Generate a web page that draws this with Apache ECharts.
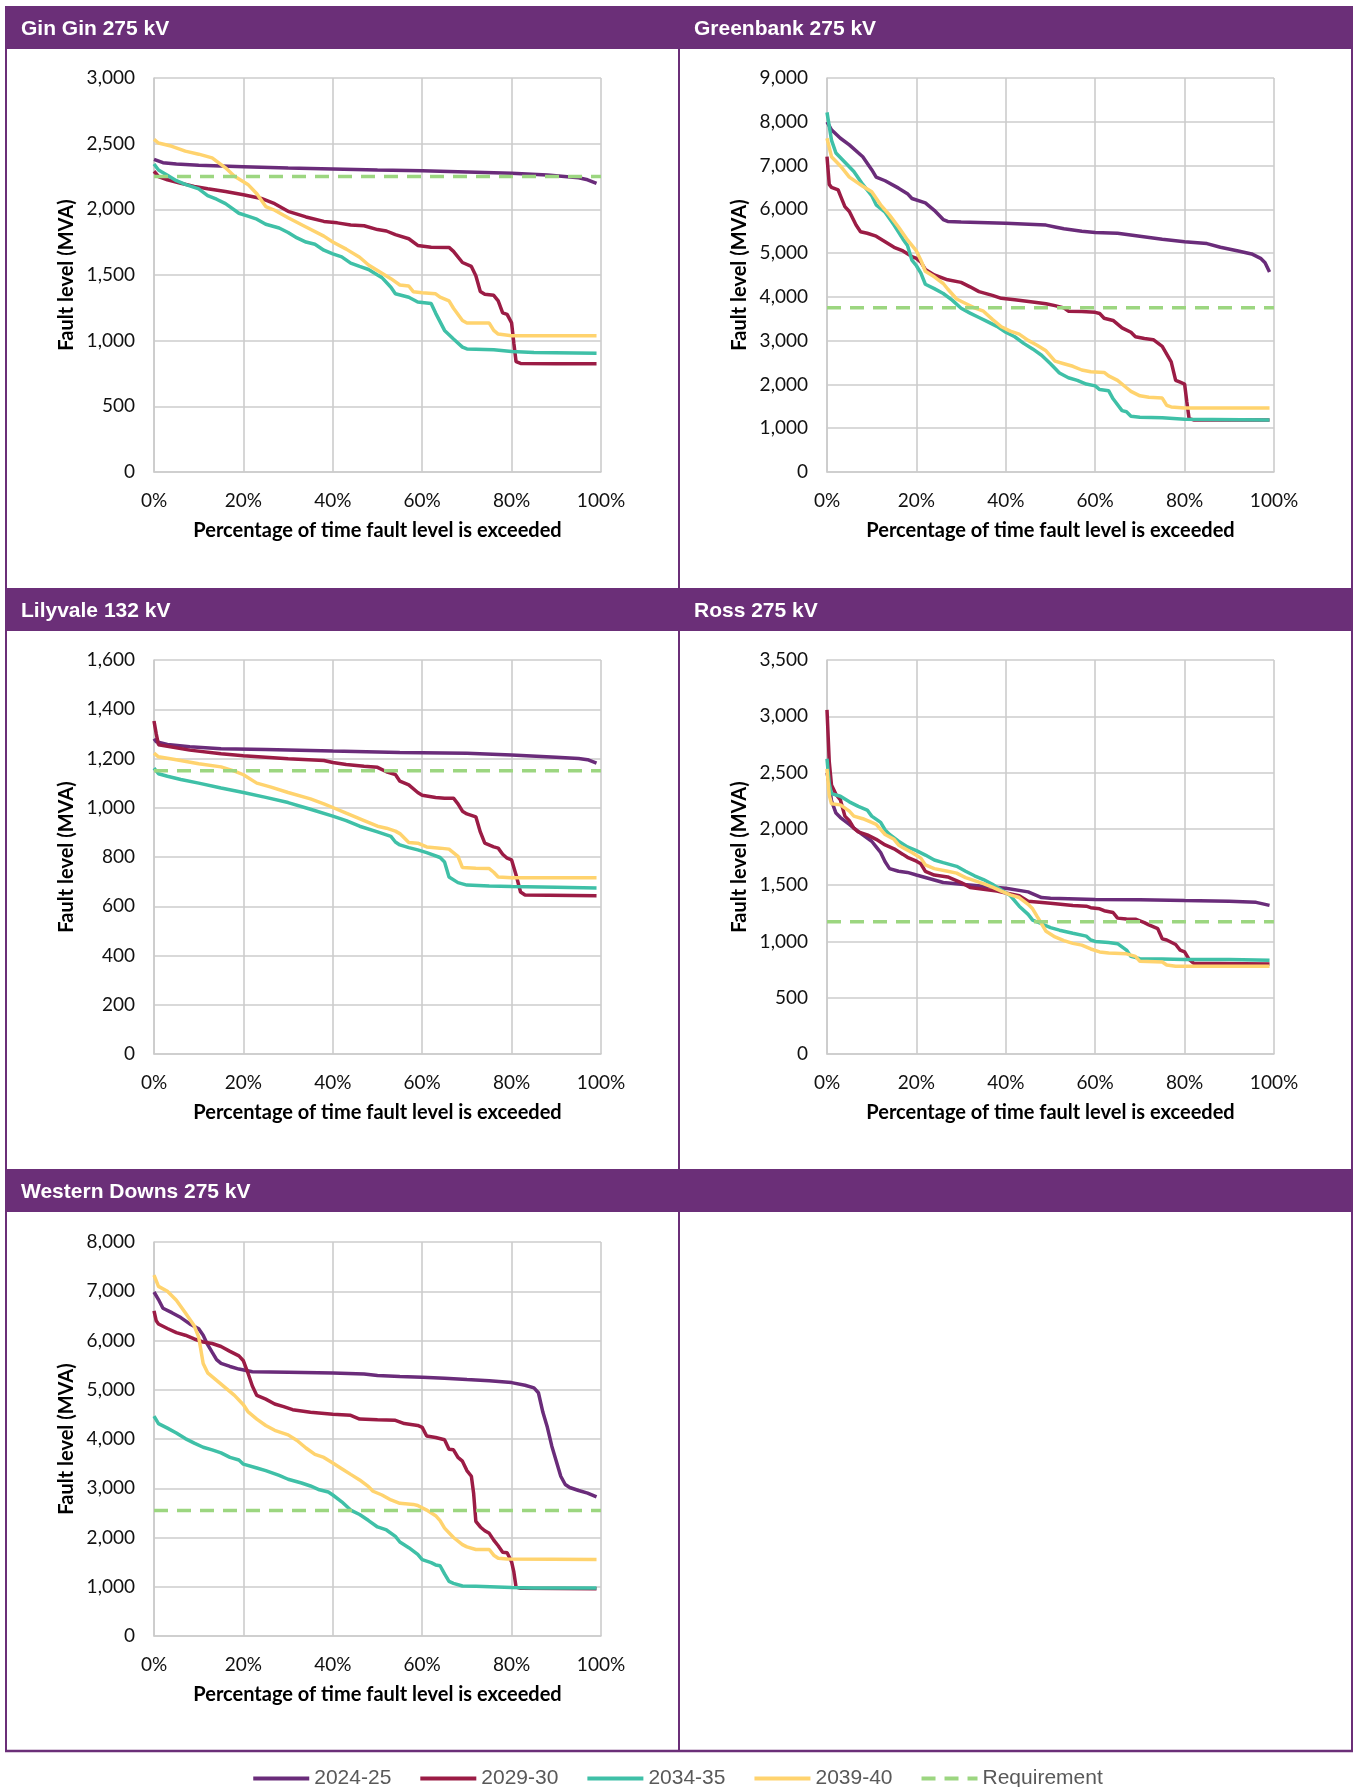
<!DOCTYPE html>
<html><head><meta charset="utf-8">
<script src="https://cdn.jsdelivr.net/npm/echarts@6/dist/echarts.min.js"></script>
<style>html,body{margin:0;padding:0;background:#fff}#c{width:1354px;height:1787px}</style>
</head><body><div id="c"></div>
<script>
// ---------- Data ----------
const seriesNames = ['2024-25', '2029-30', '2034-35', '2039-40', 'Requirement'];
const chartTitles = ['Gin Gin 275 kV', 'Greenbank 275 kV', 'Lilyvale 132 kV', 'Ross 275 kV', 'Western Downs 275 kV'];
const yMax = [3000, 9000, 1600, 3500, 8000];
const yStep = [500, 1000, 200, 500, 1000];
const xTicks = [0, 20, 40, 60, 80, 100];
const requirement = [2250, 3750, 1150, 1175, 2550];

// Gin Gin 275 kV  [percentage of time exceeded, MVA]
const ginGin2024 = [[0,2380],[2,2355],[5,2345],[10,2335],[20,2325],[30,2315],[40,2308],[50,2300],[60,2294],[70,2285],[80,2274],[88,2262],[95,2240],[97,2225],[99,2198]];
const ginGin2029 = [[0,2290],[1,2250],[3,2225],[6,2198],[9,2175],[12,2156],[16,2136],[20,2111],[24,2083],[27,2043],[30,1985],[34,1942],[38,1908],[41,1897],[44,1880],[47,1875],[50,1846],[52,1835],[54,1807],[57,1776],[59,1725],[62,1711],[66,1710],[67,1680],[69,1595],[71,1565],[72,1495],[73,1375],[74,1354],[76,1345],[77,1303],[78,1212],[79,1200],[80,1135],[80.5,980],[81,840],[82,827],[90,825],[99,825]];
const ginGin2034 = [[0,2345],[1,2300],[3,2260],[5,2218],[7,2190],[10,2156],[12,2105],[14,2077],[16,2043],[19,1970],[21,1948],[23,1925],[25,1886],[28,1858],[30,1824],[32,1782],[34,1751],[36,1734],[38,1689],[40,1661],[42,1638],[44,1590],[46,1565],[48,1542],[50,1500],[51,1480],[53,1407],[54,1357],[57,1331],[59,1295],[62,1283],[63,1210],[65,1078],[67,1013],[69,951],[70,937],[76,930],[80,917],[85,909],[99,905]];
const ginGin2039 = [[0,2533],[1,2505],[4,2480],[7,2443],[10,2420],[13,2392],[16,2316],[18,2252],[21,2190],[23,2119],[25,2021],[27,1993],[30,1936],[34,1866],[38,1796],[40,1751],[43,1697],[46,1635],[48,1576],[51,1514],[53,1472],[55,1424],[57,1416],[58,1373],[60,1365],[63,1357],[64,1331],[66,1303],[67,1247],[69,1154],[70,1135],[75,1134],[76,1078],[77,1050],[80,1037],[99,1037]];

// Greenbank 275 kV
const greenbank2024 = [[0,8000],[1,7818],[3,7624],[5,7472],[8,7202],[10,6906],[11,6737],[13,6653],[16,6484],[18,6358],[19,6248],[22,6147],[24,5978],[26,5767],[27,5724],[30,5710],[40,5682],[49,5640],[51,5598],[53,5556],[57,5497],[60,5471],[65,5454],[70,5387],[75,5319],[80,5260],[85,5218],[88,5133],[92,5049],[95,4981],[97,4880],[98,4779],[99,4568]];
const greenbank2029 = [[0,7202],[0.5,6569],[1,6501],[2.5,6442],[3,6315],[4,6062],[5,5952],[6.5,5640],[7.5,5488],[9,5454],[11,5387],[13,5260],[15,5133],[17,5049],[19,4922],[20,4880],[21,4796],[22,4627],[24,4500],[27,4390],[30,4331],[32,4230],[34,4120],[37,4036],[39,3968],[42,3935],[46,3884],[49,3842],[51,3800],[53,3749],[54,3673],[57,3665],[60,3647],[61,3620],[62,3512],[64,3462],[66,3293],[68,3192],[69,3090],[71,3048],[73,3023],[75,2871],[77,2516],[78,2094],[79,2052],[80,2009],[80.5,1600],[81,1220],[82,1190],[99,1185]];
const greenbank2034 = [[0,8215],[1,7582],[2,7286],[4,7075],[6,6864],[8,6569],[10,6315],[11,6104],[13,5935],[15,5640],[17,5319],[18,5176],[19,4838],[20,4711],[21,4542],[22,4289],[24,4188],[26,4078],[28,3926],[30,3740],[32,3630],[34,3529],[36,3428],[38,3327],[40,3192],[42,3090],[44,2938],[46,2812],[48,2668],[50,2474],[52,2263],[54,2153],[56,2094],[58,2009],[60,1967],[61,1883],[63,1857],[64,1672],[66,1402],[67,1376],[68,1275],[70,1250],[75,1240],[80,1207],[99,1190]];
const greenbank2039 = [[0,7624],[1,7202],[3,6991],[5,6737],[8,6526],[10,6400],[12,6104],[14,5868],[16,5598],[18,5302],[20,5049],[21,4838],[22,4585],[24,4458],[26,4306],[27,4180],[29,3951],[31,3850],[33,3749],[35,3673],[37,3487],[39,3318],[41,3217],[43,3149],[45,3006],[47,2896],[49,2769],[51,2533],[53,2474],[55,2415],[57,2330],[59,2288],[62,2275],[63,2195],[65,2094],[67,1925],[68,1841],[70,1740],[72,1706],[75,1689],[76,1520],[77,1486],[80,1461],[99,1460]];

// Lilyvale 132 kV
const lilyvale2024 = [[0,1280],[0.5,1268],[3,1257],[8,1248],[15,1240],[25,1237],[40,1230],[55,1224],[70,1221],[80,1214],[90,1205],[95,1200],[97,1195],[99,1181]];
const lilyvale2029 = [[0,1352],[0.5,1300],[1,1256],[3,1250],[8,1234],[15,1219],[20,1211],[30,1199],[38,1192],[40,1184],[43,1176],[47,1169],[50,1164],[52,1146],[54,1135],[55,1108],[57,1093],[59,1062],[60,1051],[63,1042],[65,1039],[67,1039],[68,1016],[69,986],[70,975],[72,963],[73,902],[74,856],[76,841],[77,836],[78,811],[79,795],[80,788],[81,727],[82,658],[83,646],[99,643]];
const lilyvale2034 = [[0,1161],[1,1138],[3,1128],[6,1115],[10,1100],[15,1080],[20,1062],[25,1042],[30,1021],[35,994],[40,966],[43,948],[46,925],[50,902],[53,884],[54,861],[55,849],[57,838],[59,829],[61,818],[64,798],[65,780],[66,719],[68,696],[70,686],[75,682],[80,680],[90,677],[99,674]];
const lilyvale2039 = [[0,1222],[1,1207],[5,1195],[10,1179],[15,1166],[18,1149],[20,1134],[23,1100],[26,1085],[30,1062],[35,1036],[38,1016],[40,1001],[43,978],[45,963],[47,948],[50,925],[52,917],[54,905],[55,895],[57,859],[59,856],[61,841],[64,836],[66,832],[68,803],[69,757],[72,754],[75,753],[76,738],[77,719],[80,716],[99,716]];

// Ross 275 kV
const ross2024 = [[0,2500],[0.5,2400],[1,2250],[2,2140],[3,2100],[5,2040],[6,2007],[8,1947],[10,1890],[11,1840],[12,1790],[13,1707],[14,1647],[16,1623],[18,1613],[20,1590],[23,1557],[26,1523],[30,1507],[35,1490],[40,1473],[45,1440],[48,1390],[50,1383],[60,1373],[70,1370],[80,1363],[90,1357],[96,1347],[99,1320]];
const ross2029 = [[0,3057],[0.5,2600],[1,2390],[2,2307],[3,2257],[4,2113],[5,2073],[6,2007],[7,1973],[9,1947],[11,1907],[13,1857],[15,1823],[17,1773],[18,1747],[20,1713],[21,1690],[22,1623],[24,1590],[27,1573],[30,1523],[32,1480],[35,1463],[38,1447],[40,1430],[43,1407],[45,1357],[50,1340],[55,1320],[58,1313],[59,1300],[61,1290],[62,1273],[64,1257],[65,1207],[67,1200],[69,1198],[71,1167],[72,1147],[74,1113],[75,1023],[76,1013],[78,973],[79,923],[80,907],[81,840],[82,807],[99,800]];
const ross2034 = [[0,2623],[0.5,2400],[1,2313],[3,2290],[5,2240],[7,2200],[9,2167],[10,2113],[12,2057],[13,1990],[14,1950],[16,1890],[18,1840],[20,1807],[22,1767],[24,1723],[26,1700],[29,1667],[31,1623],[33,1583],[35,1550],[37,1507],[39,1457],[41,1407],[43,1313],[45,1240],[46,1190],[48,1157],[50,1123],[52,1100],[55,1073],[58,1047],[59,1013],[60,1000],[63,990],[65,980],[67,923],[68,867],[70,847],[75,845],[80,840],[90,840],[99,833]];
const ross2039 = [[0,2533],[0.5,2300],[1,2223],[3,2213],[5,2157],[6,2113],[8,2090],[10,2057],[11,2040],[13,1950],[15,1907],[16,1857],[17,1833],[19,1790],[21,1740],[22,1680],[24,1647],[27,1623],[29,1607],[31,1567],[33,1540],[35,1513],[37,1483],[39,1447],[41,1413],[43,1390],[45,1330],[46,1290],[47,1223],[48,1157],[49,1090],[51,1040],[53,1007],[55,983],[57,967],[59,933],[61,907],[63,897],[67,890],[69,867],[70,823],[75,817],[76,790],[78,780],[99,780]];

// Western Downs 275 kV
const westernDowns2024 = [[0,6985],[1,6832],[2,6656],[4,6565],[6,6466],[8,6336],[10,6237],[11,6107],[12,5916],[13,5763],[14,5611],[15,5534],[17,5473],[19,5420],[22,5366],[30,5355],[40,5340],[47,5320],[50,5290],[55,5270],[60,5255],[65,5235],[70,5206],[75,5185],[80,5145],[83,5092],[85,5038],[86,4939],[87,4542],[88,4237],[89,3855],[90,3550],[91,3244],[92,3076],[93,3015],[95,2954],[97,2901],[99,2824]];
const westernDowns2029 = [[0,6603],[0.5,6400],[1,6336],[3,6244],[5,6160],[7,6107],[9,6031],[11,5969],[13,5939],[15,5878],[17,5779],[19,5687],[20,5588],[21,5344],[22,5076],[23,4885],[25,4809],[27,4710],[29,4656],[31,4595],[35,4542],[40,4504],[44,4480],[46,4405],[50,4389],[54,4380],[56,4313],[59,4275],[60,4237],[61,4061],[63,4031],[65,3985],[66,3794],[67,3780],[68,3626],[69,3550],[70,3359],[71,3244],[71.5,2900],[72,2328],[73,2214],[74,2137],[75,2084],[76,1947],[77,1832],[78,1702],[79,1690],[80,1504],[80.5,1300],[81,992],[82,970],[99,960]];
const westernDowns2034 = [[0,4466],[1,4313],[3,4221],[5,4122],[7,4008],[9,3916],[11,3832],[13,3779],[15,3718],[17,3626],[19,3573],[20,3489],[23,3412],[25,3359],[28,3260],[30,3183],[33,3107],[35,3046],[37,2969],[39,2924],[40,2863],[42,2725],[44,2557],[46,2466],[48,2344],[50,2214],[52,2153],[54,2023],[55,1908],[57,1794],[59,1656],[60,1550],[62,1489],[63,1443],[64,1427],[65,1260],[66,1107],[67,1069],[69,1015],[72,1010],[80,985],[85,977],[99,977]];
const westernDowns2039 = [[0,7328],[1,7099],[3,7000],[5,6817],[7,6565],[9,6298],[10,6069],[11,5534],[12,5344],[14,5191],[16,5038],[18,4885],[20,4695],[21,4557],[23,4405],[25,4275],[27,4176],[30,4084],[32,3969],[34,3817],[36,3687],[38,3626],[40,3511],[42,3397],[44,3282],[46,3168],[48,3031],[49,2939],[51,2863],[53,2763],[55,2695],[58,2672],[59,2650],[61,2557],[63,2443],[64,2344],[65,2191],[67,2000],[69,1855],[70,1809],[72,1756],[75,1756],[76,1641],[77,1580],[79,1565],[99,1555]];

const chartData = [
  [ginGin2024, ginGin2029, ginGin2034, ginGin2039],
  [greenbank2024, greenbank2029, greenbank2034, greenbank2039],
  [lilyvale2024, lilyvale2029, lilyvale2034, lilyvale2039],
  [ross2024, ross2029, ross2034, ross2039],
  [westernDowns2024, westernDowns2029, westernDowns2034, westernDowns2039]
];

// ---------- Styling / layout ----------
const PURPLE = '#6B2F78';
const colors = ['#6A2C7A', '#9B1C45', '#3FC0A7', '#FFD36E', '#9CD680'];
const gridPos = [
  {left: 154, top: 78, width: 447, height: 394},
  {left: 827, top: 78, width: 447, height: 394},
  {left: 154, top: 660, width: 447, height: 394},
  {left: 827, top: 660, width: 447, height: 394},
  {left: 154, top: 1242, width: 447, height: 394}
];
const titlePos = [[21, 29], [694, 29], [21, 611], [694, 611], [21, 1192]];
const bands = [[6, 43], [588, 43], [1169, 43]];
const FONT = 'Lato, "Open Sans", sans-serif';
const GRIDC = '#CCCCCC';

const grid = [], xAxis = [], yAxis = [], series = [];
chartData.forEach((sets, i) => {
  grid.push(Object.assign({containLabel: false}, gridPos[i]));
  xAxis.push({
    type: 'value', gridIndex: i, min: 0, max: 100, interval: 20,
    name: 'Percentage of time fault level is exceeded', nameLocation: 'middle', nameGap: 49,
    nameTextStyle: {fontFamily: FONT, fontWeight: 'bold', fontSize: 20, color: '#000'},
    axisLine: {show: true, lineStyle: {color: GRIDC, width: 1.6}},
    axisTick: {show: false},
    splitLine: {show: true, lineStyle: {color: GRIDC, width: 1.6}},
    axisLabel: {margin: 19, fontFamily: FONT, fontSize: 19, color: '#111', formatter: v => v + '%'}
  });
  yAxis.push({
    type: 'value', gridIndex: i, min: 0, max: yMax[i], interval: yStep[i],
    name: 'Fault level (MVA)', nameLocation: 'middle', nameGap: 77,
    nameTextStyle: {fontFamily: FONT, fontWeight: 'bold', fontSize: 20, color: '#000'},
    axisLine: {show: true, lineStyle: {color: GRIDC, width: 1.6}},
    axisTick: {show: false},
    splitLine: {show: true, lineStyle: {color: GRIDC, width: 1.6}},
    axisLabel: {margin: 19, fontFamily: FONT, fontSize: 19, color: '#111', formatter: v => v.toLocaleString('en-US')}
  });
  sets.forEach((d, k) => {
    series.push({
      name: seriesNames[k], type: 'line', xAxisIndex: i, yAxisIndex: i, data: d,
      symbol: 'none', smooth: false, lineStyle: {color: colors[k], width: 3.5}, itemStyle: {color: colors[k]},
      emphasis: {disabled: true}, animation: false
    });
  });
  series.push({
    name: seriesNames[4], type: 'line', xAxisIndex: i, yAxisIndex: i,
    data: [[0, requirement[i]], [100, requirement[i]]],
    symbol: 'none', lineStyle: {color: colors[4], width: 3.5, type: [14, 9]}, itemStyle: {color: colors[4]},
    emphasis: {disabled: true}, animation: false
  });
});

const graphic = [];
bands.forEach(b => graphic.push({type: 'rect', silent: true, z: 0, shape: {x: 5, y: b[0], width: 1348, height: b[1]}, style: {fill: PURPLE}}));
// frame lines
graphic.push({type: 'line', silent: true, shape: {x1: 6, y1: 6, x2: 6, y2: 1751}, style: {stroke: PURPLE, lineWidth: 2}});
graphic.push({type: 'line', silent: true, shape: {x1: 1352, y1: 6, x2: 1352, y2: 1751}, style: {stroke: PURPLE, lineWidth: 2}});
graphic.push({type: 'line', silent: true, shape: {x1: 679, y1: 6, x2: 679, y2: 1751}, style: {stroke: PURPLE, lineWidth: 2}});
graphic.push({type: 'line', silent: true, shape: {x1: 5, y1: 1751, x2: 1353, y2: 1751}, style: {stroke: PURPLE, lineWidth: 2.5}});
chartTitles.forEach((t, i) => graphic.push({
  type: 'text', silent: true, z: 10, x: titlePos[i][0], y: titlePos[i][1],
  style: {text: t, fill: '#fff', font: 'bold 21px "Liberation Sans", Arial, sans-serif', textVerticalAlign: 'middle', verticalAlign: 'middle'}
}));

const chart = echarts.init(document.getElementById('c'), null, {renderer: 'canvas'});
chart.setOption({
  animation: false,
  grid, xAxis, yAxis, series, graphic,
  legend: {
    data: seriesNames, left: 'center', top: 1763, itemWidth: 56, itemHeight: 14, itemGap: 27,
    itemStyle: {opacity: 0},
    lineStyle: {width: 4},
    textStyle: {fontFamily: '"Liberation Sans Narrow", "Arial Narrow", sans-serif', fontSize: 21, color: '#595959'},
    selectedMode: false
  }
});
</script></body></html>
